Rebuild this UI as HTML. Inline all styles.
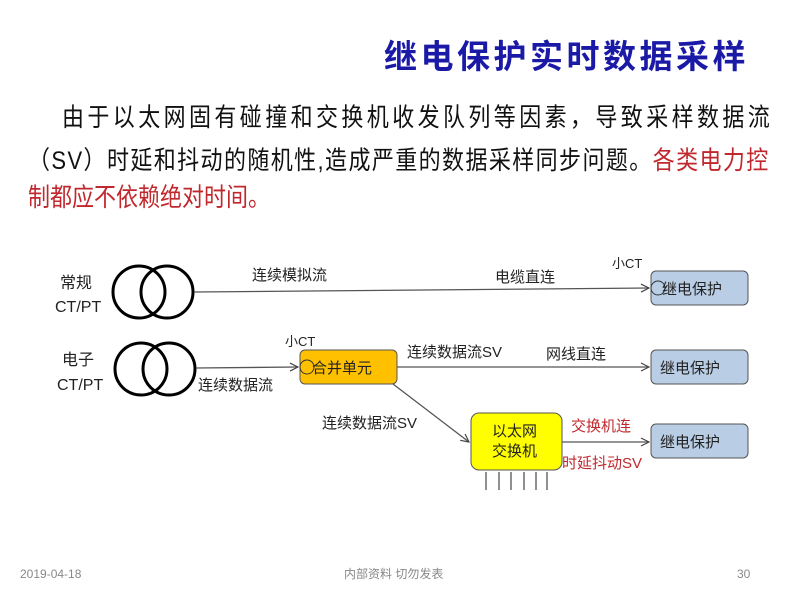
<!DOCTYPE html>
<html><head><meta charset="utf-8"><style>
body{margin:0;width:800px;height:600px;background:#fff;overflow:hidden;position:relative;font-family:"Liberation Sans","Noto Sans CJK SC",sans-serif}
.t{position:absolute;white-space:nowrap}
.b{font-size:22px;transform:scaleY(1.15);transform-origin:0 0}
</style></head><body>
<div class="t" style="left:384px;top:30px;font-size:33px;font-weight:bold;color:#1a1aa6;letter-spacing:3.5px">继电保护实时数据采样</div>
<div class="t b" style="left:62px;top:97px;letter-spacing:3.4px;color:#111">由于以太网固有碰撞和交换机收发队列等因素，导致采样数据流</div>
<div class="t b" style="left:28px;top:140px;letter-spacing:1.4px;color:#111">（SV）时延和抖动的随机性,造成严重的数据采样同步问题。<span style="color:#c0282d">各类电力控</span></div>
<div class="t b" style="left:28px;top:177px;letter-spacing:0px;color:#c0282d">制都应不依赖绝对时间。</div>
<svg width="800" height="600" style="position:absolute;left:0;top:0" font-family="Liberation Sans, Noto Sans CJK SC, sans-serif">
<defs><marker id="a" markerWidth="10" markerHeight="10" refX="9" refY="5" orient="auto" markerUnits="userSpaceOnUse"><path d="M1,1 L9,5 L1,9" fill="none" stroke="#444" stroke-width="1.2"/></marker></defs>
<g fill="none" stroke="#000" stroke-width="3">
<circle cx="139" cy="292" r="26"/><circle cx="167" cy="292" r="26"/>
<circle cx="141" cy="369" r="26"/><circle cx="169" cy="369" r="26"/>
</g>
<g stroke="#555" stroke-width="1.3" fill="none">
<line x1="194" y1="292" x2="649" y2="288" marker-end="url(#a)"/>
<line x1="196" y1="368" x2="298" y2="367" marker-end="url(#a)"/>
<line x1="397" y1="367" x2="649" y2="367" marker-end="url(#a)"/>
<line x1="393" y1="384" x2="469" y2="442" marker-end="url(#a)"/>
<line x1="562" y1="442" x2="649" y2="442" marker-end="url(#a)"/>
<path d="M486 472V490M499 472V490M511 472V490M524 472V490M536 472V490M547 472V490"/>
</g>
<rect x="651" y="271" width="97" height="34" rx="5" fill="#b9cde5" stroke="#555"/>
<rect x="651" y="350" width="97" height="34" rx="5" fill="#b9cde5" stroke="#555"/>
<rect x="651" y="424" width="97" height="34" rx="5" fill="#b9cde5" stroke="#555"/>
<rect x="300" y="350" width="97" height="34" rx="5" fill="#ffc000" stroke="#555"/>
<rect x="471" y="413" width="91" height="57" rx="8" fill="#ffff00" stroke="#555"/>
<circle cx="658" cy="288" r="7" fill="none" stroke="#333"/>
<circle cx="307" cy="367" r="7" fill="none" stroke="#333"/>
<g font-size="15" fill="#222">
<text x="662" y="294">继电保护</text><text x="660" y="373">继电保护</text><text x="660" y="447">继电保护</text>
<text x="312" y="373">合并单元</text>
<text x="492" y="436">以太网</text><text x="492" y="456">交换机</text>
<text x="252" y="280">连续模拟流</text><text x="495" y="282">电缆直连</text>
<text x="198" y="390">连续数据流</text><text x="407" y="357">连续数据流SV</text>
<text x="546" y="359">网线直连</text><text x="322" y="428">连续数据流SV</text>
<text x="60" y="288" font-size="16">常规</text><text x="55" y="312" font-size="16">CT/PT</text>
<text x="62" y="365" font-size="16">电子</text><text x="57" y="390" font-size="16">CT/PT</text>
<text x="612" y="268" font-size="13">小CT</text><text x="285" y="346" font-size="13">小CT</text>
<text x="571" y="431" fill="#c0282d">交换机连</text><text x="562" y="468" fill="#c0282d">时延抖动SV</text>
</g>
<g font-size="12" fill="#888">
<text x="20" y="578">2019-04-18</text><text x="344" y="578">内部资料 切勿发表</text><text x="737" y="578">30</text>
</g>
</svg>
</body></html>
